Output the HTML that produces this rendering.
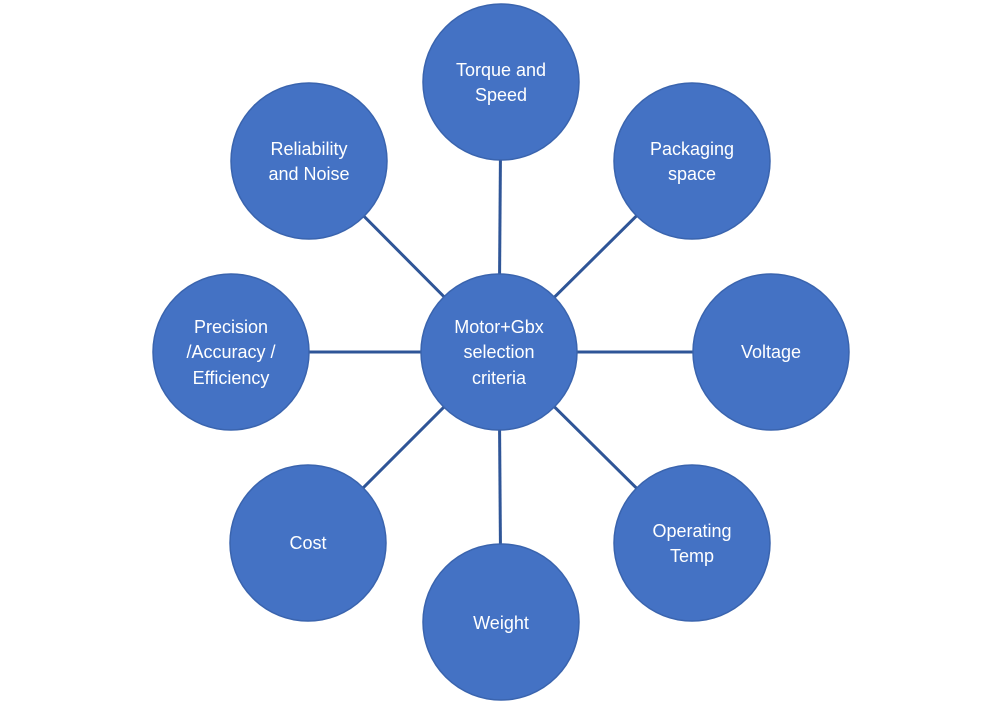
<!DOCTYPE html>
<html><head><style>
html,body{margin:0;padding:0;background:#fff;}
svg{display:block;}
text{font-family:"Liberation Sans",sans-serif;font-size:18px;fill:#fff;text-anchor:middle;}
</style></head><body>
<svg width="1000" height="704" viewBox="0 0 1000 704">
<g stroke="#2F5597" stroke-width="3">
<line x1="499" y1="352" x2="501" y2="82"/>
<line x1="499" y1="352" x2="692" y2="161"/>
<line x1="499" y1="352" x2="771" y2="352"/>
<line x1="499" y1="352" x2="692" y2="543"/>
<line x1="499" y1="352" x2="501" y2="622"/>
<line x1="499" y1="352" x2="308" y2="543"/>
<line x1="499" y1="352" x2="231" y2="352"/>
<line x1="499" y1="352" x2="309" y2="161"/>
</g>
<g fill="#4472C4" stroke="#3A64AE" stroke-width="1.5">
<circle cx="499" cy="352" r="78"/>
<circle cx="501" cy="82" r="78"/>
<circle cx="692" cy="161" r="78"/>
<circle cx="771" cy="352" r="78"/>
<circle cx="692" cy="543" r="78"/>
<circle cx="501" cy="622" r="78"/>
<circle cx="308" cy="543" r="78"/>
<circle cx="231" cy="352" r="78"/>
<circle cx="309" cy="161" r="78"/>
</g>
<text x="499" y="333">Motor+Gbx</text>
<text x="499" y="358">selection</text>
<text x="499" y="384">criteria</text>
<text x="501" y="76">Torque and</text>
<text x="501" y="101">Speed</text>
<text x="692" y="155">Packaging</text>
<text x="692" y="180">space</text>
<text x="771" y="358">Voltage</text>
<text x="692" y="537">Operating</text>
<text x="692" y="562">Temp</text>
<text x="501" y="629">Weight</text>
<text x="308" y="549">Cost</text>
<text x="231" y="333">Precision</text>
<text x="231" y="358">/Accuracy /</text>
<text x="231" y="384">Efficiency</text>
<text x="309" y="155">Reliability</text>
<text x="309" y="180">and Noise</text>
</svg>
</body></html>
